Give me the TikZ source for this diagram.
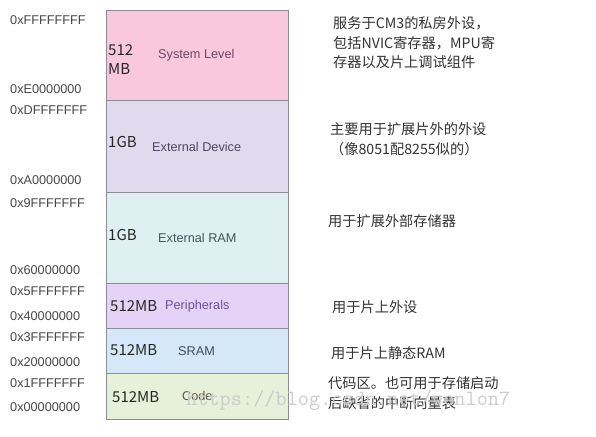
\documentclass[tikz,border=0pt]{standalone}
\usepackage{fontspec}
\setmainfont{Liberation Sans}
\newfontfamily\cjk{Noto Sans CJK SC}
\definecolor{syscol}{RGB}{250,200,221}
\definecolor{devcol}{RGB}{224,218,238}
\definecolor{ramcol}{RGB}{222,240,241}
\definecolor{pericol}{RGB}{229,211,247}
\definecolor{sramcol}{RGB}{212,232,250}
\definecolor{codecol}{RGB}{231,240,216}
\definecolor{edgecol}{RGB}{140,140,150}
\tikzset{
  region/.style={draw=edgecol, line width=0.8pt, anchor=north west, minimum width=182pt, inner sep=0pt},
  addrlabel/.style={anchor=west, inner sep=0pt, text=black!72, font=\fontsize{12.7}{14}\selectfont},
  arealabel/.style={anchor=west, inner sep=0pt, align=left, text=black!85, font=\cjk\fontsize{15}{19}\selectfont},
  areatitle/.style={anchor=west, inner sep=0pt, font=\fontsize{12.7}{14}\selectfont},
  notetext/.style={anchor=west, inner sep=0pt, align=left, text=black!80, font=\cjk\fontsize{14.2}{19.5}\selectfont}
}
\begin{document}
\begin{tikzpicture}[x=1pt,y=-1pt]
\useasboundingbox[fill=white] (0,0) rectangle (596,436);

\node[region, fill=syscol, minimum height=90pt] (sys) at (106,10) {};
\node[region, fill=devcol, minimum height=92pt] (dev) at (106,100) {};
\node[region, fill=ramcol, minimum height=91pt] (ram) at (106,192) {};
\node[region, fill=pericol, minimum height=45pt] (peri) at (106,283) {};
\node[region, fill=sramcol, minimum height=45pt] (sram) at (106,328) {};
\node[region, fill=codecol, minimum height=46pt] (code) at (106,373) {};

\node[arealabel] (sysize) at (108,60) {512\\MB};
\node[areatitle, text={rgb,255:red,110;green,70;blue,100}] (sysname) at (158,55) {System Level};
\node[arealabel] (devsize) at (108,142) {1GB};
\node[areatitle, text={rgb,255:red,80;green,70;blue,100}] (devname) at (152,147) {External Device};
\node[arealabel] (ramsize) at (108,235) {1GB};
\node[areatitle, text={rgb,255:red,70;green,85;blue,95}] (ramname) at (158,238) {External RAM};
\node[arealabel] (perisize) at (110,306) {512MB};
\node[areatitle, text={rgb,255:red,110;green,80;blue,150}] (periname) at (165,306) {Peripherals};
\node[arealabel] (sramsize) at (110,350) {512MB};
\node[areatitle, text={rgb,255:red,65;green,75;blue,95}] (sramname) at (178,351) {SRAM};
\node[arealabel] (codesize) at (112,397) {512MB};
\node[areatitle, text={rgb,255:red,95;green,90;blue,70}] (codename) at (182,396) {Code};

\node[addrlabel] (a1) at (10,20) {0xFFFFFFFF};
\node[addrlabel] (a2) at (10,89) {0xE0000000};
\node[addrlabel] (a3) at (10,110) {0xDFFFFFFF};
\node[addrlabel] (a4) at (10,180) {0xA0000000};
\node[addrlabel] (a5) at (10,203) {0x9FFFFFFF};
\node[addrlabel] (a6) at (10,270) {0x60000000};
\node[addrlabel] (a7) at (10,291) {0x5FFFFFFF};
\node[addrlabel] (a8) at (10,316) {0x40000000};
\node[addrlabel] (a9) at (10,337) {0x3FFFFFFF};
\node[addrlabel] (a10) at (10,362) {0x20000000};
\node[addrlabel] (a11) at (10,383) {0x1FFFFFFF};
\node[addrlabel] (a12) at (10,407) {0x00000000};

\node[notetext] (sysnote) at (333,43) {服务于CM3的私房外设，\\包括NVIC寄存器，MPU寄\\存器以及片上调试组件};
\node[notetext] (devnote) at (330,139) {主要用于扩展片外的外设\\（像8051配8255似的）};
\node[notetext] (ramnote) at (328,221) {用于扩展外部存储器};
\node[notetext] (perinote) at (332,307) {用于片上外设};
\node[notetext] (sramnote) at (331,353) {用于片上静态RAM};
\node[notetext] (codenote) at (328,393) {代码区。也可用于存储启动\\后缺省的中断向量表};

\node[anchor=west, inner sep=0pt, text=black!20, font=\ttfamily\fontsize{21.7}{22}\selectfont] (mark) at (186,400) {https://blog.csdn.net/wenlon7};
\end{tikzpicture}
\end{document}
